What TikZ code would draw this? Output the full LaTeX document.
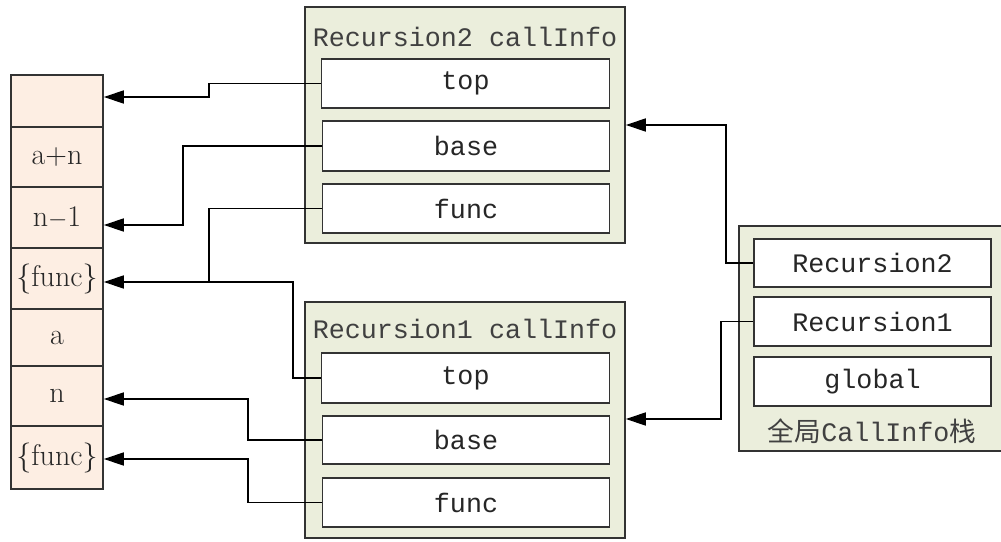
\documentclass[tikz,border=0pt]{standalone}
\usepackage{fontspec}
\newfontfamily\mono{Liberation Mono}
\newfontfamily\cjk{Noto Sans CJK SC}
\usetikzlibrary{arrows.meta}
\definecolor{peach}{HTML}{FDEEE3}
\definecolor{sage}{HTML}{EBEEDC}
\definecolor{edge}{HTML}{333333}
\begin{document}
\begin{tikzpicture}[x=1pt,y=-1pt,
  cell/.style={draw=edge,line width=1.6pt,fill=peach,minimum width=92pt,inner sep=0pt,
     font=\fontsize{30}{32}\selectfont,text=black!85},
  outer/.style={draw=edge,line width=1.6pt,fill=sage,inner sep=0pt},
  field/.style={draw=edge,line width=1.6pt,fill=white,inner sep=0pt,text=black!85,
     font=\mono\fontsize{26.7}{28}\selectfont},
  lbl/.style={inner sep=0pt,font=\mono\fontsize{26.7}{28}\selectfont,text=black!75},
  arr/.style={line width=1.6pt,-{Triangle[length=20pt,width=13pt]}},
  ln/.style={line width=1.6pt}]
\useasboundingbox (0,0) rectangle (1001,541);
% stack cells
\node[cell,minimum height=52pt] (s0) at (57,101) {};
\node[cell,minimum height=60pt] (s1) at (57,157) {a+n};
\node[cell,minimum height=61pt] (s2) at (57,217.5) {n$-$1};
\node[cell,minimum height=61pt] (s3) at (57,278.5) {\{func\}};
\node[cell,minimum height=57pt] (s4) at (57,337.5) {a};
\node[cell,minimum height=60pt] (s5) at (57,396) {n};
\node[cell,minimum height=63pt] (s6) at (57,457.5) {\{func\}};
% Recursion2 callInfo
\node[outer,minimum width=320pt,minimum height=236pt] (r2) at (465,125) {};
\node[lbl] (r2t) at (465,37) {Recursion2 callInfo};
\node[field,minimum width=288pt,minimum height=49pt] (t2) at (465.5,83.5) {top};
\node[field,minimum width=287pt,minimum height=50pt] (b2) at (466,146) {base};
\node[field,minimum width=287pt,minimum height=49pt] (f2) at (466,208.5) {func};
% Recursion1 callInfo
\node[outer,minimum width=320pt,minimum height=236pt] (r1) at (465,420) {};
\node[lbl] (r1t) at (465,329) {Recursion1 callInfo};
\node[field,minimum width=288pt,minimum height=50pt] (t1) at (465.5,378) {top};
\node[field,minimum width=287pt,minimum height=48pt] (b1) at (466,440) {base};
\node[field,minimum width=287pt,minimum height=49pt] (f1) at (466,502.5) {func};
% global CallInfo stack
\node[outer,minimum width=264pt,minimum height=225pt] (g) at (871,338.5) {};
\node[field,minimum width=237pt,minimum height=48pt] (gr2) at (872.5,263) {Recursion2};
\node[field,minimum width=237pt,minimum height=49pt] (gr1) at (872.5,321.5) {Recursion1};
\node[field,minimum width=237pt,minimum height=49pt] (gg) at (872.5,381.5) {global};
\node[lbl] (gl) at (872,431) {{\cjk 全局}CallInfo{\cjk 栈}};
% connectors
\draw[arr] (t2.west) -- (209,83.5) -- (209,97) -- (s0.east |- 0,97);
\draw[arr] (b2.west) -- (183,146) -- (183,225) -- (s2.east |- 0,225);
\draw[ln] (f2.west) -- (209,208.5) -- (209,282);
\draw[arr] (t1.west) -- (293,378) -- (293,282) -- (s3.east |- 0,282);
\draw[arr] (b1.west) -- (248,440) -- (248,399) -- (s5.east |- 0,399);
\draw[arr] (f1.west) -- (248,502.5) -- (248,459) -- (s6.east |- 0,459);
\draw[arr] (gr2.west) -- (726,263) -- (726,125) -- (r2.east |- 0,125);
\draw[arr] (gr1.west) -- (721,321.5) -- (721,419) -- (r1.east |- 0,419);
\end{tikzpicture}
\end{document}
